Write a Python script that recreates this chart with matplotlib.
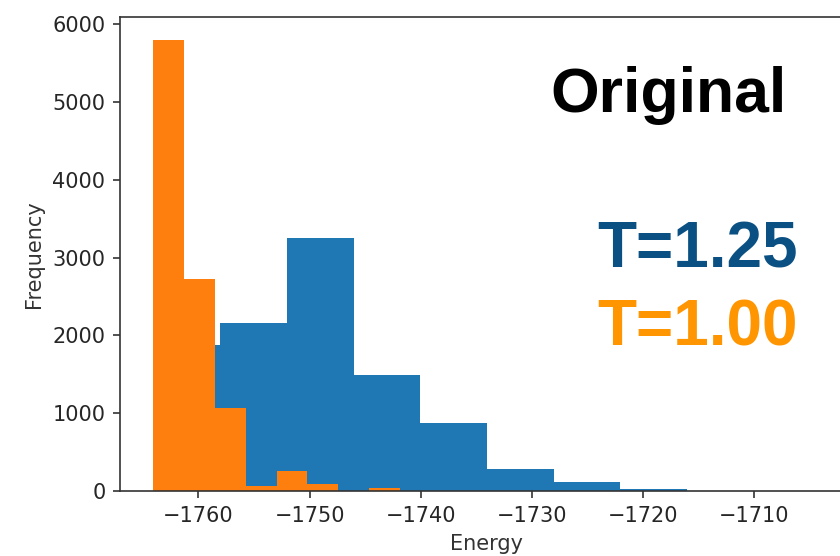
import matplotlib
matplotlib.use("Agg")
import matplotlib.pyplot as plt
import numpy as np

# histogram bin edges and counts for the two temperatures
edges_hot = [-1764.05, -1758.05, -1752.05, -1746.05, -1740.05, -1734.05,
             -1728.05, -1722.05, -1716.05, -1710.05, -1704.05]
counts_hot = [1876, 2155, 3250, 1490, 870, 280, 110, 30, 4, 2]

edges_cold = [-1764.05, -1761.28, -1758.51, -1755.74, -1752.97, -1750.20,
              -1747.43, -1744.66, -1741.89, -1739.12, -1736.35]
counts_cold = [5800, 2725, 1067, 70, 260, 94, 4, 40, 2, 3]

label_hot = "T=1.25"
label_cold = "T=1.00"
title_text = "Original"

scale = 1.5
plt.rcParams.update({
    "font.size": 10 * scale,
    "axes.linewidth": 0.8 * scale,
    "xtick.major.size": 3.5 * scale,
    "ytick.major.size": 3.5 * scale,
    "xtick.major.width": 0.8 * scale,
    "ytick.major.width": 0.8 * scale,
    "xtick.major.pad": 3.5 * scale,
    "ytick.major.pad": 3.5 * scale,
    "axes.labelpad": 4.0 * scale,
    "axes.edgecolor": "#333333",
    "xtick.color": "#333333",
    "ytick.color": "#333333",
    "xtick.labelcolor": "#262626",
    "ytick.labelcolor": "#262626",
})

fig = plt.figure(figsize=(8.4, 5.56), dpi=100)
# axes runs past the right edge of the figure
ax = fig.add_axes([120 / 840, 65 / 556, 734 / 840, 474 / 556])

ax.hist(np.array(edges_hot[:-1]), bins=edges_hot, weights=counts_hot, color="#1f77b4")
ax.hist(np.array(edges_cold[:-1]), bins=edges_cold, weights=counts_cold, color="#ff7f0e")

ax.set_xlabel("Energy", color="#333333")
ax.set_ylabel("Frequency", color="#333333")
ax.set_yticks([0, 1000, 2000, 3000, 4000, 5000, 6000])

txt = dict(fontfamily="Liberation Sans", fontweight="bold", va="baseline", ha="left")
fig.text(550 / 840, 1 - 112 / 556, title_text, color="black", fontsize=45, **txt)
fig.text(597 / 840, 1 - 268 / 556, label_hot, color="#0a5082", fontsize=46, **txt)
fig.text(597 / 840, 1 - 345 / 556, label_cold, color="#ff9500", fontsize=46, **txt)

fig.savefig("out.png", dpi=100)
